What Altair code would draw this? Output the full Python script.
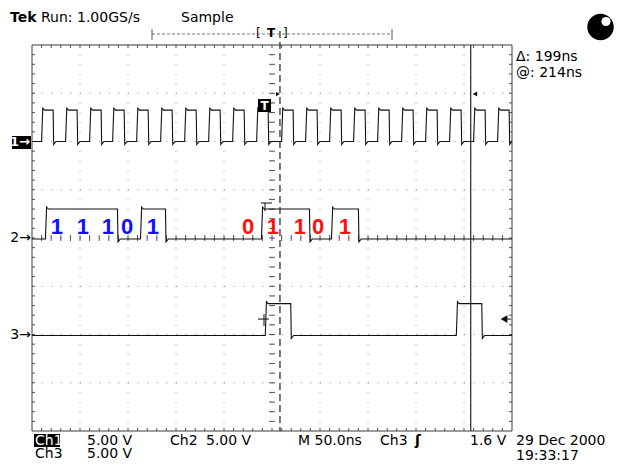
import altair as alt
import pandas as pd

# ---------------- data (time in ns relative to trigger, 50 ns/div; level in divisions) ----------------
T_MIN, T_MAX = -250, 250
V_MIN, V_MAX = -4, 4

CH1_RISE = [-240, -215, -190, -166, -141, -116, -91, -66, -41, -16, 10, 35, 60, 85, 110, 135, 160, 185, 210, 235]
CH1_FALL = [-228, -203, -178, -154, -129, -104, -79, -54, -29, -4, 22, 47, 72, 97, 122, 147, 172, 197, 222, 247]
CH1_LOW, CH1_HIGH = 2.0, 2.65

CH2_RISE = [-236, -137, -11, 62]
CH2_FALL = [-161, -111, 39, 90]
CH2_LOW, CH2_HIGH = -0.02, 0.6

CH3_RISE = [-7, 192]
CH3_FALL = [19.5, 218.5]
CH3_LOW, CH3_HIGH = -2.02, -1.36

BLUE_BITS = ["1", "1", "1", "0", "1"]
BLUE_T = [-224, -197, -171, -151, -124]
RED_BITS = ["0", "1", "1", "0", "1"]
RED_T = [-25, 1, 29, 48, 76]
BIT_LEVEL = 0.23

CURSOR_DASHED_T = 8.3
CURSOR_SOLID_T = 207
TRIG_LEVEL = -1.68

CHANNEL_GROUND = [2.0, 0.0, -2.0]
CHANNEL_NAMES = ["1", "2", "3"]

# ---------------- layout ----------------
W, H = 480, 386
LEFT, TOP = 32, 45  # page position of the graticule
FONT = "DejaVu Sans"
INK = "#111111"

xs = alt.Scale(domain=[T_MIN, T_MAX], nice=False, zero=False)
ys = alt.Scale(domain=[V_MIN, V_MAX], nice=False, zero=False)


def X(f="t"):
    return alt.X(f"{f}:Q", scale=xs, axis=None)


def Y(f="v"):
    return alt.Y(f"{f}:Q", scale=ys, axis=None)


def px(x):
    return alt.value(x - LEFT)


def py(y):
    return alt.value(y - TOP)


def one():
    return alt.Chart(pd.DataFrame({"a": [0]}))


def build_trace(name, rises, falls, lo, hi):
    pts = [(T_MIN, lo)]
    for r, f in zip(rises, falls):
        pts += [(r, lo), (r + 1.2, hi + 0.04), (r + 3, hi), (f, hi), (f + 0.6, lo - 0.06), (f + 3, lo)]
    pts.append((T_MAX, lo))
    return pd.DataFrame({"t": [p[0] for p in pts], "v": [p[1] for p in pts],
                         "i": range(len(pts)), "ch": name})


traces = pd.concat([
    build_trace("ch1", CH1_RISE, CH1_FALL, CH1_LOW, CH1_HIGH),
    build_trace("ch2", CH2_RISE, CH2_FALL, CH2_LOW, CH2_HIGH),
    build_trace("ch3", CH3_RISE, CH3_FALL, CH3_LOW, CH3_HIGH),
])

layers = []

# graticule: dotted division lines
major_t = [T_MIN + 50 * k for k in range(1, 10)]
major_v = [V_MIN + k for k in range(1, 8)]
layers.append(alt.Chart(pd.DataFrame({"t": major_t})).mark_rule(
    color="#8c8c8c", strokeWidth=1, strokeDash=[1, H / 40 - 1]).encode(x=X(), y=alt.value(0), y2=alt.value(H)))
layers.append(alt.Chart(pd.DataFrame({"v": major_v})).mark_rule(
    color="#8c8c8c", strokeWidth=1, strokeDash=[1, W / 50 - 1]).encode(y=Y(), x=alt.value(0), x2=alt.value(W)))

# minor ticks on the border and centre lines
minor_t = [T_MIN + 10 * k for k in range(1, 50)]
minor_v = [V_MIN + 0.2 * k for k in range(1, 40)]
tick_col = "#555555"
dft = pd.DataFrame({"t": minor_t})
dfv = pd.DataFrame({"v": minor_v})
layers.append(alt.Chart(dft).mark_rule(color=tick_col).encode(x=X(), y=alt.value(0), y2=alt.value(3)))
layers.append(alt.Chart(dft).mark_rule(color=tick_col).encode(x=X(), y=alt.value(H), y2=alt.value(H - 3)))
layers.append(alt.Chart(dft).mark_rule(color=tick_col).encode(x=X(), y=alt.value(H / 2 - 3), y2=alt.value(H / 2 + 3)))
layers.append(alt.Chart(dfv).mark_rule(color=tick_col).encode(y=Y(), x=alt.value(0), x2=alt.value(3)))
layers.append(alt.Chart(dfv).mark_rule(color=tick_col).encode(y=Y(), x=alt.value(W), x2=alt.value(W - 3)))
layers.append(alt.Chart(dfv).mark_rule(color=tick_col).encode(y=Y(), x=alt.value(W / 2 - 3), x2=alt.value(W / 2 + 3)))

# border
layers.append(one().mark_rect(filled=False, stroke="#3a3a3a", strokeWidth=1).encode(
    x=alt.value(0), x2=alt.value(W), y=alt.value(0), y2=alt.value(H)))

# cursors
layers.append(alt.Chart(pd.DataFrame({"t": [CURSOR_DASHED_T]})).mark_rule(
    color="#222222", strokeWidth=1.2, strokeDash=[7, 4]).encode(x=X(), y=alt.value(-14), y2=alt.value(H)))
layers.append(alt.Chart(pd.DataFrame({"t": [CURSOR_SOLID_T]})).mark_rule(
    color="#222222", strokeWidth=1.2).encode(x=X(), y=alt.value(0), y2=alt.value(H)))

# traces
layers.append(alt.Chart(traces).mark_line(color=INK, strokeWidth=1.1, interpolate="linear").encode(
    x=X(), y=Y(), detail="ch:N", order="i:Q"))

# bit labels
blue = pd.DataFrame({"t": BLUE_T, "v": [BIT_LEVEL] * len(BLUE_T), "b": BLUE_BITS})
red = pd.DataFrame({"t": RED_T, "v": [BIT_LEVEL] * len(RED_T), "b": RED_BITS})
for df, col in ((blue, "#1010ff"), (red, "#ff1010")):
    layers.append(alt.Chart(df).mark_text(font="Liberation Sans", fontSize=22, fontWeight="bold", color=col,
                                          baseline="middle", align="center").encode(x=X(), y=Y(), text="b:N"))

# trigger level arrow (right) and trigger point marker
trig = alt.Chart(pd.DataFrame({"v": [TRIG_LEVEL]}))
layers.append(trig.mark_point(shape="triangle-left", filled=True, color=INK, size=60, opacity=1).encode(
    x=alt.value(W - 8), y=Y()))
layers.append(trig.mark_rule(color=INK).encode(x=alt.value(W - 8), x2=alt.value(W - 1), y=Y()))
layers.append(trig.mark_rule(color=INK).encode(x=px(258), x2=px(269), y=Y()))
layers.append(one().mark_rule(color=INK).encode(x=px(264), y=py(314), y2=py(326)))

# channel ground markers on the left (channel 1 selected -> inverted)
gnd = pd.DataFrame({"v": CHANNEL_GROUND, "n": [n + "→" for n in CHANNEL_NAMES]})
layers.append(one().mark_rect(color="#000000").encode(x=alt.value(-20), x2=alt.value(-1),
                                                       y=py(136), y2=py(149)))
layers.append(alt.Chart(gnd.iloc[:1]).mark_text(font=FONT, fontSize=13, fontWeight="bold", align="right",
                                                baseline="middle", color="#ffffff").encode(
    x=alt.value(-2), y=Y(), text="n:N"))
layers.append(alt.Chart(gnd.iloc[1:]).mark_text(font=FONT, fontSize=14, fontWeight="normal", align="right",
                                                baseline="middle", color="#000000").encode(
    x=alt.value(-1), y=Y(), text="n:N"))

# small markers near the cursors/trigger
layers.append(one().mark_rect(color="#000000").encode(x=px(258), x2=px(271), y=py(99), y2=py(112)))
layers.append(one().mark_text(font=FONT, fontSize=12, fontWeight="bold", color="#ffffff",
                              align="center", baseline="middle").encode(
    x=px(264.5), y=py(106), text=alt.value("T")))
layers.append(one().mark_point(shape="triangle-left", filled=True, color=INK, size=25, opacity=1).encode(
    x=px(475), y=py(94)))
layers.append(one().mark_point(shape="triangle-right", filled=True, color=INK, size=20, opacity=1).encode(
    x=px(278), y=py(94)))
layers.append(one().mark_rule(color=INK).encode(x=px(261), x2=px(272), y=py(203)))
layers.append(one().mark_rule(color=INK).encode(x=px(265), y=py(203), y2=py(211)))

# record-length bar at the top
layers.append(one().mark_rule(color="#777777", strokeDash=[3, 2]).encode(x=px(152), x2=px(392), y=py(34)))
layers.append(one().mark_rule(color="#555555").encode(x=px(152), y=py(29), y2=py(40)))
layers.append(one().mark_rule(color="#555555").encode(x=px(392), y=py(29), y2=py(40)))

# black ball top right (kept inside the drawable area)
layers.append(one().mark_circle(color="#000000", size=700, opacity=1).encode(x=px(600.5), y=py(27)))
layers.append(one().mark_circle(color="#ffffff", size=85, opacity=1).encode(x=px(606), y=py(21.5)))

# inverted "Ch1" box at the bottom
layers.append(one().mark_rect(color="#000000").encode(x=px(34), x2=px(60), y=py(434), y2=py(447)))

# texts: (label, page x, page y, colour, weight, size)
TEXTS = [
    ("Tek", 10, 18, "#000000", "bold", 14),
    ("Run: 1.00GS/s", 41, 18, "#000000", "normal", 14),
    ("Sample", 181, 18, "#000000", "normal", 14),
    ("[", 256, 33, "#000000", "normal", 12),
    ("T", 267, 33, "#000000", "bold", 12),
    ("]", 283, 33, "#000000", "normal", 12),
    ("Δ: 199ns", 516, 57, "#000000", "normal", 14),
    ("@: 214ns", 516, 73, "#000000", "normal", 14),
    ("Ch1", 35, 441, "#ffffff", "normal", 14),
    ("5.00 V", 87, 441, "#000000", "normal", 14),
    ("Ch2", 170, 441, "#000000", "normal", 14),
    ("5.00 V", 206, 441, "#000000", "normal", 14),
    ("M 50.0ns", 298, 441, "#000000", "normal", 14),
    ("Ch3", 380, 441, "#000000", "normal", 14),
    ("ʃ", 415, 441, "#000000", "bold", 14),
    ("1.6 V", 470, 441, "#000000", "normal", 14),
    ("29 Dec 2000", 516, 441, "#000000", "normal", 14),
    ("Ch3", 35, 454, "#000000", "normal", 14),
    ("5.00 V", 87, 454, "#000000", "normal", 14),
    ("19:33:17", 516, 455.5, "#000000", "normal", 14),
]
for label, x, y, col, wt, sz in TEXTS:
    layers.append(one().mark_text(font=FONT, fontSize=sz, fontWeight=wt, color=col,
                                  align="left", baseline="middle").encode(
        x=px(x), y=py(y), text=alt.value(label)))

chart = alt.layer(*layers).properties(
    width=W, height=H,
    autosize=alt.AutoSizeParams(type="none"),
    padding={"left": LEFT - 8, "top": TOP - 8, "right": 606 - (LEFT - 8) - W, "bottom": 453 - (TOP - 8) - H},
).configure_view(stroke=None)

chart.save("out.html", embed_options={"renderer": "svg", "actions": False})
